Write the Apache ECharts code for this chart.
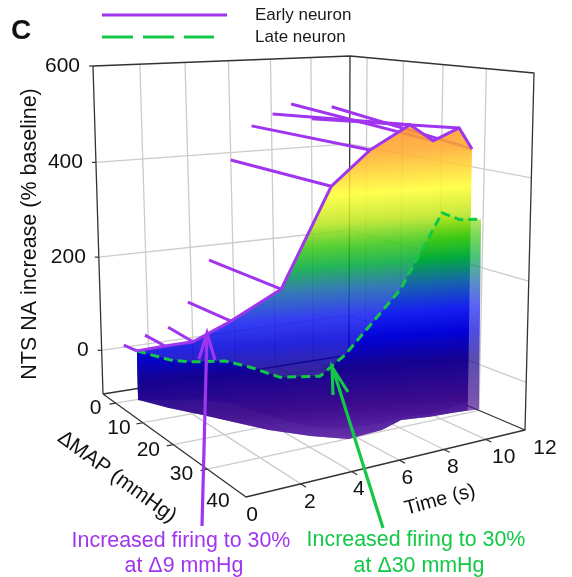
<!DOCTYPE html>
<html>
<head>
<meta charset="utf-8">
<style>
  html, body { margin: 0; background: #fff; }
  #main { width: 572px; height: 577px; }
</style>
<script src="https://cdn.jsdelivr.net/npm/echarts@6/dist/echarts.min.js"></script>
</head>
<body>
<div id="main"></div>
<script>
// axis ticks
const timeTicks = [0, 2, 4, 6, 8, 10, 12];
const mapTicks = [0, 10, 20, 30, 40];
const valueTicks = [0, 200, 400, 600];

// early neuron: rays start on dMAP = 0, end on the curve
const rayTimes = [0.4, 1.3, 2.3, 3.2, 4.2, 5.3, 6.3, 7.3, 8.2, 9.2, 10.2];
const rayValues = [25, 40, 50, 98, 183, 394, 464, 487, 506, 471, 495];
const earlyMap = [4.9, 7.1, 8.5, 14, 21.9, 28.6, 32.4, 36.2, 36.7, 37.4, 35.5];
const earlyValues = [30, 41, 47, 101, 182, 391, 462, 511, 479, 501, 455];

// late neuron
const lateTimes = [0.5, 1, 1.5, 2, 2.5, 3, 3.5, 4, 5, 6, 7, 8, 9, 10];
const lateMap = [4, 11.2, 13.7, 20.7, 24.3, 29, 35.9, 38.9, 39.1, 40.5, 40.8, 39.6, 38.7, 38.5];
const lateValues = [26, 29, 30, 53, 50, 44, 68, 114, 161, 223, 300, 351, 331, 327];

// bottom edge of the surface
const baseTimes = [0.8, 1.4, 2.1, 2.8, 3.5, 4.5, 5.5, 7.1, 8.4, 9.6, 10.7, 11.9];
const baseMap = [1.2, 6.8, 11.6, 17, 22.4, 27.3, 30.9, 30.4, 28.4, 29.4, 29.7, 30.4];
const baseValues = [-90, -90, -90, -90, -90, -90, -90, -90, -90, -90, -90, -90];
const innerValues = [-91, -74, -59, -53, -62, -72, -69, -76, -84, -84, -78, -75];

// box of the 3d plot, corners in page pixels: (t0,mMin) (t12,mMin) (t12,mMax) (t0,mMax)
const timeMax = 12, mapMin = -5, mapMax = 40, valueMin = -95, valueMax = 600;
const floorCorners = [[103, 394], [349, 355], [525, 430], [246, 497]];
const topCorners = [[93, 66], [350, 56], [534, 73], [238, 88]];

// label nudges
const mapLabelDx = [-20, -24, -25, -26, -28];
const mapLabelDy = [5, 5, 6, 5, 4];
const timeLabelDx = [6, 9, 7, 8, 9, 18, 20];

const purple = '#a035f0', green = '#12c846', gridColor = '#cccccc', boxColor = '#333333';
const textFont = '"Liberation Sans", Arial, sans-serif';

function homography(p) {
  let dx1 = p[1][0] - p[2][0], dx2 = p[3][0] - p[2][0], sx = p[0][0] - p[1][0] + p[2][0] - p[3][0];
  let dy1 = p[1][1] - p[2][1], dy2 = p[3][1] - p[2][1], sy = p[0][1] - p[1][1] + p[2][1] - p[3][1];
  let d = dx1 * dy2 - dx2 * dy1;
  let g = (sx * dy2 - dx2 * sy) / d, h = (dx1 * sy - sx * dy1) / d;
  return function (u, v) {
    let w = g * u + h * v + 1;
    return [
      ((p[1][0] - p[0][0] + g * p[1][0]) * u + (p[3][0] - p[0][0] + h * p[3][0]) * v + p[0][0]) / w,
      ((p[1][1] - p[0][1] + g * p[1][1]) * u + (p[3][1] - p[0][1] + h * p[3][1]) * v + p[0][1]) / w
    ];
  };
}
const floorMap = homography(floorCorners);
const topMap = homography(topCorners);

// (time, dMAP, value) -> page position
function project(t, m, v) {
  let a = t / timeMax, b = (m - mapMin) / (mapMax - mapMin);
  let u = (v - valueMin) / (valueMax - valueMin);
  let f = u / (1 + 0.03 * (1 - u));
  let low = floorMap(a, b), high = topMap(a, b);
  return [low[0] + (high[0] - low[0]) * f, low[1] + (high[1] - low[1]) * f];
}

function zip3(a, b, c) {
  return a.map(function (x, i) { return [x, b[i], c[i]]; });
}

const earlyCurve = zip3(rayTimes, earlyMap, earlyValues);
const lateCurve = zip3(lateTimes, lateMap, lateValues);
const baseCurve = zip3(baseTimes, baseMap, baseValues);
const innerCurve = zip3(baseTimes, baseMap, innerValues);

function shapeSeries(name, z, build) {
  return {
    type: 'custom',
    name: name,
    coordinateSystem: 'cartesian2d',
    silent: true,
    clip: false,
    z: z,
    data: [[0, 0]],
    renderItem: function (params, api) {
      return { type: 'group', children: build(api) };
    }
  };
}

function toPage(api, list) {
  return list.map(function (d) { return api.coord(project(d[0], d[1], d[2])); });
}

function stroke(api, list, color, width, dash) {
  return {
    type: 'polyline',
    shape: { points: toPage(api, list) },
    style: { fill: null, stroke: color, lineWidth: width, lineDash: dash || null, lineJoin: 'round' }
  };
}

function label(api, d, dx, dy, text, align) {
  let p = api.coord(project(d[0], d[1], d[2]));
  return {
    type: 'text',
    x: p[0] + dx,
    y: p[1] + dy,
    style: { text: text, fill: '#111', font: '21px ' + textFont, align: align || 'center', verticalAlign: 'middle' }
  };
}

function surfaceFill() {
  return new echarts.graphic.LinearGradient(400, 110, 400 + 0.07 * 335, 445, [
    { offset: 0, color: '#ff8a28' },
    { offset: 0.12, color: '#ffa82a' },
    { offset: 0.24, color: '#ffff32' },
    { offset: 0.32, color: '#bee61e' },
    { offset: 0.39, color: '#3cc814' },
    { offset: 0.45, color: '#00aa3c' },
    { offset: 0.52, color: '#1464aa' },
    { offset: 0.6, color: '#141ef0' },
    { offset: 0.67, color: '#0000d8' },
    { offset: 0.75, color: '#120090' },
    { offset: 0.87, color: '#3c0a8c' },
    { offset: 1, color: '#6e32b4' }
  ], true);
}

function buildGrid(api) {
  let out = [];
  timeTicks.slice(1, -1).forEach(function (t) {
    out.push(stroke(api, [[t, mapMin, valueMin], [t, mapMin, valueMax]], gridColor, 1.3));
    out.push(stroke(api, [[t, mapMin, valueMin], [t, mapMax, valueMin]], gridColor, 1.3));
  });
  mapTicks.slice(0, -1).forEach(function (m) {
    out.push(stroke(api, [[timeMax, m, valueMin], [timeMax, m, valueMax]], gridColor, 1.3));
    out.push(stroke(api, [[0, m, valueMin], [timeMax, m, valueMin]], gridColor, 1.3));
  });
  valueTicks.slice(0, -1).forEach(function (v) {
    out.push(stroke(api, [[0, mapMin, v], [timeMax, mapMin, v], [timeMax, mapMax, v]], gridColor, 1.3));
  });
  return out;
}

function buildBox(api) {
  let out = [];
  out.push(stroke(api, [[0, mapMin, valueMin], [0, mapMin, valueMax], [timeMax, mapMin, valueMax], [timeMax, mapMax, valueMax], [timeMax, mapMax, valueMin]], boxColor, 1.3));
  out.push(stroke(api, [[timeMax, mapMin, valueMax], [timeMax, mapMin, valueMin]], boxColor, 1.3));
  out.push(stroke(api, [[0, mapMin, valueMin], [timeMax, mapMin, valueMin], [timeMax, mapMax, valueMin], [0, mapMax, valueMin], [0, mapMin, valueMin]], boxColor, 1.3));
  // small ticks
  valueTicks.forEach(function (v) {
    let p = api.coord(project(0, mapMin, v));
    out.push({ type: 'line', shape: { x1: p[0] - 4, y1: p[1], x2: p[0], y2: p[1] }, style: { stroke: boxColor, lineWidth: 1.2 } });
  });
  mapTicks.slice(0, -1).forEach(function (m) {
    out.push(stroke(api, [[0, m, valueMin], [-0.25, m, valueMin]], boxColor, 1.2));
  });
  timeTicks.slice(1, -1).forEach(function (t) {
    out.push(stroke(api, [[t, mapMax, valueMin], [t, mapMax + 1.2, valueMin]], boxColor, 1.2));
  });
  return out;
}

function buildLabels(api) {
  let out = [];
  valueTicks.forEach(function (v) {
    out.push(label(api, [0, mapMin, v], -13, 0, String(v), 'right'));
  });
  mapTicks.forEach(function (m, i) {
    out.push(label(api, [0, m, valueMin], mapLabelDx[i], mapLabelDy[i], String(m)));
  });
  timeTicks.forEach(function (t, i) {
    out.push(label(api, [t, mapMax, valueMin], timeLabelDx[i], 18, String(t)));
  });
  return out;
}

function buildRays(api) {
  return rayTimes.map(function (t, i) {
    return stroke(api, [[t, 0, rayValues[i]], earlyCurve[i]], purple, 3);
  });
}

function polygon(api, list, opacity) {
  return {
    type: 'polygon',
    shape: { points: toPage(api, list) },
    style: { fill: surfaceFill(), opacity: opacity }
  };
}

function buildEarlySurface(api) {
  let edge = [[11.4, 30, -90]];
  return [polygon(api, earlyCurve.concat(edge).concat(baseCurve.slice(0, -1).reverse()), 0.86)];
}

function buildLateSurface(api) {
  let lateEnd = [9.5, 38.4, 330];
  let innerEnd = [11.4, 30, -72];
  let core = lateCurve.slice(0, -1).concat([lateEnd, innerEnd]).concat(innerCurve.slice(0, -1).reverse());
  return [
    polygon(api, lateCurve.concat(baseCurve.slice().reverse()), 0.7),
    polygon(api, core, 0.8)
  ];
}

function buildCurves(api) {
  return [
    stroke(api, lateCurve, green, 3, [9, 5]),
    stroke(api, earlyCurve, purple, 3)
  ];
}

function pageText(x, y, text, color, size, rotate, weight, align) {
  return {
    type: 'text',
    x: x,
    y: y,
    rotation: (rotate || 0) * Math.PI / 180,
    z: 100,
    style: { text: text, fill: color, font: (weight || 'normal') + ' ' + size + 'px ' + textFont, align: align || 'center', verticalAlign: 'middle' }
  };
}

function pageLine(points, color, dash) {
  return {
    type: 'polyline',
    z: 100,
    shape: { points: points },
    style: { fill: null, stroke: color, lineWidth: 3.2, lineDash: dash || null }
  };
}

let chart = echarts.init(document.getElementById('main'), null, { renderer: 'canvas' });
let option = {
  animation: false,
  backgroundColor: '#fff',
  grid: { left: 0, right: 0, top: 0, bottom: 0 },
  xAxis: { type: 'value', min: 0, max: 572, show: false },
  yAxis: { type: 'value', min: 0, max: 577, inverse: true, show: false },
  series: [
    shapeSeries('grid', 1, buildGrid),
    shapeSeries('box', 2, buildBox),
    shapeSeries('rays', 3, buildRays),
    shapeSeries('early surface', 4, buildEarlySurface),
    shapeSeries('late surface', 5, buildLateSurface),
    shapeSeries('curves', 6, buildCurves),
    shapeSeries('labels', 7, buildLabels)
  ],
  graphic: [
    pageText(21, 31, 'C', '#111', 28, 0, 'bold'),
    pageLine([[102, 15], [227, 15]], purple),
    pageLine([[102, 37], [214, 37]], green, [31, 10]),
    pageText(255, 15, 'Early neuron', '#1a1a1a', 17, 0, 'normal', 'left'),
    pageText(255, 37, 'Late neuron', '#1a1a1a', 17, 0, 'normal', 'left'),
    pageText(30, 234, 'NTS NA increase (% baseline)', '#111', 21.5, 90),
    pageText(117, 477, '\u0394MAP (mmHg)', '#111', 21, -36),
    pageText(440, 500, 'Time (s)', '#111', 20, 15),
    pageLine([[202, 526], [207, 334]], purple),
    pageLine([[199, 359], [207, 333], [215, 360]], purple),
    pageLine([[383, 528], [333, 369]], green),
    pageLine([[333, 395], [332, 367], [348, 392]], green),
    pageText(181, 541, 'Increased firing to 30%', purple, 21.4),
    pageText(184, 566, 'at \u03949 mmHg', purple, 21.4),
    pageText(416, 540, 'Increased firing to 30%', green, 21.4),
    pageText(419, 566, 'at \u039430 mmHg', green, 21.4)
  ]
};
chart.setOption(option);
</script>
</body>
</html>
